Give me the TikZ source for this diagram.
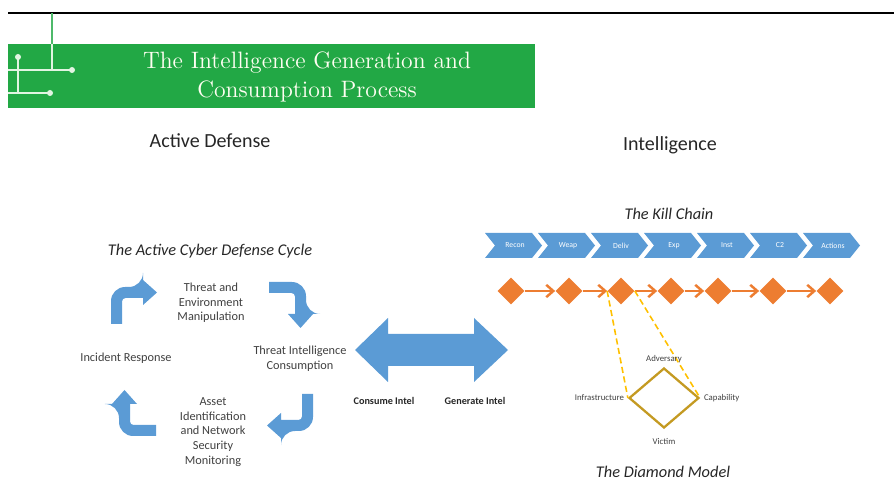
\documentclass[tikz,border=0pt]{standalone}
\usepackage{fontspec}
\setsansfont{Carlito}
\usepackage{tikz}
\usetikzlibrary{shapes.geometric,arrows.meta,positioning}

\definecolor{bannergreen}{HTML}{22A845}
\definecolor{circuitgreen}{HTML}{E2F5E2}
\definecolor{chainblue}{HTML}{5B9BD5}
\definecolor{chainorange}{HTML}{ED7D31}
\definecolor{modelgold}{HTML}{C49A22}
\definecolor{dashyellow}{HTML}{FFC000}
\definecolor{cycletext}{HTML}{404040}

\begin{document}
\begin{tikzpicture}[x=0.02cm,y=-0.02cm,
   heading/.style={font=\sffamily\fontsize{11.4}{13}\selectfont,text=black!85},
   caption/.style={font=\sffamily\itshape\fontsize{9.3}{11}\selectfont,text=black!85},
   cyclelabel/.style={font=\sffamily\fontsize{7}{8.3}\selectfont,text=cycletext,align=center},
   intellabel/.style={font=\sffamily\bfseries\fontsize{5.8}{7}\selectfont,text=black!85},
   chainlabel/.style={font=\sffamily\fontsize{4.4}{5}\selectfont,text=white},
   modellabel/.style={font=\sffamily\fontsize{5}{6}\selectfont,text=black!75,inner sep=1pt},
   killdiamond/.style={diamond,fill=chainorange,inner sep=0pt,minimum size=0.54cm},
   chainlink/.style={chainorange,line width=1.4pt,-{Straight Barb[length=4pt,width=7pt]}},
   circuit/.style={circuitgreen,line width=1.2pt},
   bentarrow/.pic={
      \fill[chainblue] (-23,22) [rounded corners=8pt] -- (-23,-15) -- (9,-15) [sharp corners]
         -- (9,-22) -- (23,-9.5) -- (9,3) -- (9,-4) [rounded corners=2pt] -- (-12,-4)
         [sharp corners] -- (-12,22) -- cycle;
   }]
   \useasboundingbox (0,0) rectangle (894,483);

   % banner
   \draw[black,line width=1.5pt] (8,13) -- (894,13);
   \fill[bannergreen] (8,44) rectangle (535,108);
   \draw[bannergreen!80,line width=1.2pt] (52,13) -- (52,44);
   \draw[circuit] (52,44) -- (52,70) (8,70) -- (72,70);
   \draw[circuit] (18,57) -- (18,93) (8,93) -- (50,93);
   \foreach \cx/\cy in {72/70,18/57,50/93}
      \fill[circuitgreen] (\cx,\cy) circle (3);
   \node[text=white!95!yellow,align=center,font=\fontsize{13.5}{16}\selectfont] (title) at (307,77)
      {The Intelligence Generation and\\Consumption Process};

   \node[heading] (active) at (210,141) {Active Defense};
   \node[heading] (intel) at (670,145) {Intelligence};

   % active cyber defense cycle
   \node[caption] (cyclecap) at (210,251) {The Active Cyber Defense Cycle};
   \node[cyclelabel] (manip) at (211,303) {Threat and\\Environment\\Manipulation};
   \node[cyclelabel] (consume) at (300,359) {Threat Intelligence\\Consumption};
   \node[cyclelabel] (asset) at (213,432) {Asset\\Identification\\and Network\\Security\\Monitoring};
   \node[cyclelabel] (incident) at (126,358) {Incident Response};
   \pic at (134,302) {bentarrow};
   \pic[rotate=-90] at (291,305) {bentarrow};
   \pic[rotate=180] at (290,416) {bentarrow};
   \pic[rotate=90] at (134,413) {bentarrow};

   % consume / generate
   \fill[chainblue] (355,350) -- (388,318) -- (388,334) -- (474,334) -- (474,318) -- (508,350)
      -- (474,382) -- (474,366) -- (388,366) -- (388,382) -- cycle;
   \node[intellabel] (consint) at (384,401) {Consume Intel};
   \node[intellabel] (genint) at (475,401) {Generate Intel};

   % kill chain
   \node[caption] (chaincap) at (669,214) {The Kill Chain};
   \foreach \lab [count=\i from 0] in {Recon,Weap,Deliv,Exp,Inst,C2,Actions}{
      \pgfmathsetmacro{\kx}{485+53*\i}
      \fill[chainblue] (\kx,233) -- (\kx+47,233) -- (\kx+57,245.5) -- (\kx+47,258)
         -- (\kx,258) -- (\kx+10,245.5) -- cycle;
      \node[chainlabel] (kc\i) at (\kx+30,245.5) {\lab};
   }
   \foreach \px [count=\i] in {511,569,621,671,718,773,830}
      \node[killdiamond] (kd\i) at (\px,291) {};
   \foreach \i [evaluate=\i as \j using int(\i+1)] in {1,...,6}
      \draw[chainlink] (kd\i) -- (kd\j);

   % diamond model
   \node[diamond,draw=modelgold,line width=1.3pt,inner sep=0pt,aspect=1.17,
      minimum width=1.4cm,minimum height=1.2cm] (dm) at (664,398) {};
   \draw[dashyellow,line width=0.9pt,dash pattern=on 3.5pt off 2pt] (kd3.west) -- (dm.west);
   \draw[dashyellow,line width=0.9pt,dash pattern=on 3.5pt off 2pt] (kd3.east) -- (dm.east);
   \node[modellabel,above=1pt of dm.north] (adv) {Adversary};
   \node[modellabel,left=1pt of dm.west] (infra) {Infrastructure};
   \node[modellabel,right=1pt of dm.east] (capab) {Capability};
   \node[modellabel,below=4pt of dm.south] (victim) {Victim};
   \node[caption] (modelcap) at (663,472) {The Diamond Model};
\end{tikzpicture}
\end{document}
